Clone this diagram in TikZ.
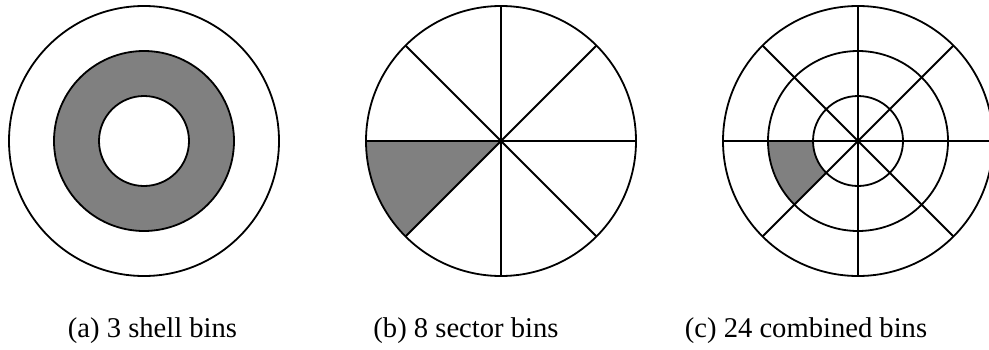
\documentclass[tikz,border=0pt]{standalone}
\usepackage{fontspec}
\setmainfont{Liberation Serif}
\usetikzlibrary{positioning}
\tikzset{
  binline/.style  = {line width=0.9pt, black},
  binfill/.style  = {fill=gray},
  caption/.style  = {font=\fontsize{14.3}{17}\selectfont, anchor=base, inner sep=0pt},
}

\begin{document}
\begin{tikzpicture}[x=0.5pt,y=0.5pt]
  \useasboundingbox (0,0) rectangle (989,349);
  % (a) shells
  \coordinate (A) at (144,208);
  \fill[binfill, even odd rule] (A) circle (90) (A) circle (45);
  \draw[binline] (A) circle (45) (A) circle (90) (A) circle (135);
  % (b) sectors
  \coordinate (B) at (501,208);
  \fill[binfill] (B) -- ++(180:135) arc (180:225:135) -- cycle;
  \draw[binline] (B) circle (135);
  \foreach \a in {0,45,90,135}
    \draw[binline] (B) ++(\a:135) -- ++(\a+180:270);
  % (c) shells x sectors
  \coordinate (C) at (858,208);
  \fill[binfill] (C) ++(180:45) -- ++(180:45) arc (180:225:90)
    -- ++(45:45) arc (225:180:45) -- cycle;
  \draw[binline] (C) circle (45) (C) circle (90) (C) circle (135);
  \foreach \a in {0,45,90,135}
    \draw[binline] (C) ++(\a:135) -- ++(\a+180:270);
  % captions
  \node[caption] (capa) at (152.5,12) {(a) 3 shell bins};
  \node[caption] (capb) at (466,12) {(b) 8 sector bins};
  \node[caption] (capc) at (806,12) {(c) 24 combined bins};
\end{tikzpicture}
\end{document}
